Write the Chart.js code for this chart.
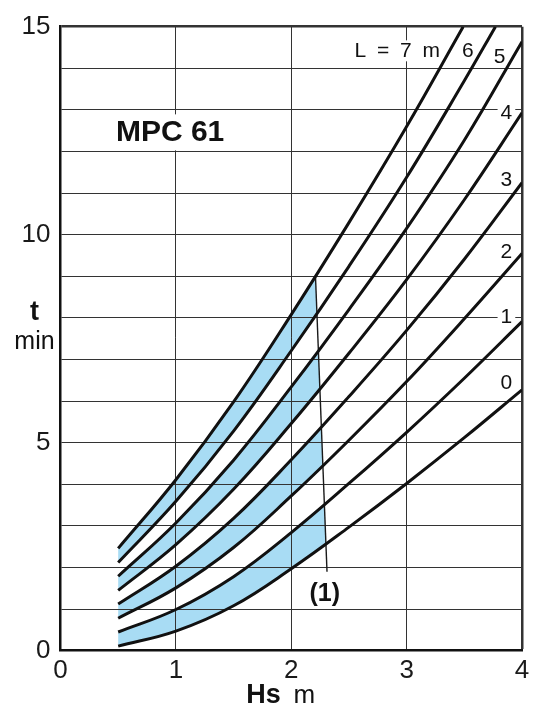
<!DOCTYPE html>
<html>
<head>
<meta charset="utf-8">
<script src="https://cdn.jsdelivr.net/npm/chart.js@4.4.1/dist/chart.umd.min.js"></script>
<style>
  html, body { margin: 0; padding: 0; background: #fff; }
</style>
</head>
<body>
<canvas id="chart" width="545" height="728"></canvas>
<script>
// Hs (m) where the curves were read
const hs = [0.5, 1, 1.5, 2, 2.5, 3, 3.5, 4];
const hsL6 = [0.5, 1, 1.5, 2, 2.5, 3, 3.5, 3.77];
const hsL7 = [0.5, 1, 1.5, 2, 2.5, 3, 3.49];

// t (min) for each pipe length L
const tL0 = [0.11, 0.47, 1.08, 1.97, 2.97, 4.02, 5.12, 6.27];
const tL1 = [0.45, 0.99, 1.78, 2.84, 4.02, 5.25, 6.55, 7.91];
const tL2 = [0.78, 1.51, 2.48, 3.72, 5.06, 6.47, 7.98, 9.55];
const tL3 = [1.12, 2.03, 3.18, 4.59, 6.11, 7.70, 9.41, 11.25];
const tL4 = [1.45, 2.55, 3.88, 5.46, 7.15, 8.92, 10.84, 12.93];
const tL5 = [1.79, 3.07, 4.58, 6.34, 8.20, 10.15, 12.27, 14.64];
const tL6 = [2.12, 3.59, 5.28, 7.21, 9.24, 11.38, 13.70, 15.0];
const tL7 = [2.46, 4.11, 5.98, 8.08, 10.29, 12.60, 15.0];

const curveNames = ["0", "1", "2", "3", "4", "5", "6", "L = 7 m"];

// limit line (1)
const cutHs = [2.21, 2.31];
const cutT = [9.0, 1.9];
const cutName = "(1)";

const yLabelled = [0, 5, 10, 15];
const chartTitle = "MPC 61";

// shaded bands, by curve index (upper, lower)
const bandPairs = [[7, 6], [5, 4], [3, 2], [1, 0]];

const FONT = "'Liberation Sans', Arial, Helvetica, sans-serif";
const BAND_BLUE = "#a8dcf4";
const INK = "#111";

// where the curve names sit (Hs, t)
const labelSpots = [[3.865, 6.43], [3.865, 8.02], [3.865, 9.58], [3.865, 11.32],
                    [3.865, 12.92], [3.805, 14.26], [3.53, 14.42], [2.93, 14.42]];

const curveSets = [tL0, tL1, tL2, tL3, tL4, tL5, tL6, tL7];
const curveHs = [hs, hs, hs, hs, hs, hs, hsL6, hsL7];

const datasets = curveSets.map((vals, i) => ({
  label: curveNames[i],
  data: vals.map((t, k) => ({ x: curveHs[i][k], y: t })),
  borderColor: INK,
  borderWidth: 3,
  pointRadius: 0,
  tension: 0.4,
  fill: false
}));
const cutIndex = datasets.length;
datasets.push({
  label: cutName,
  data: cutT.map((t, k) => ({ x: cutHs[k], y: t })),
  borderColor: "#1a1a1a",
  borderWidth: 1.4,
  pointRadius: 0,
  fill: false
});

function boxedText(ctx, text, cx, cy, font, boxH, spacing) {
  ctx.save();
  ctx.font = font;
  if (spacing) ctx.letterSpacing = spacing;
  const w = ctx.measureText(text).width;
  ctx.fillStyle = "#fff";
  ctx.fillRect(cx - w / 2 - 3, cy - boxH / 2, w + 6, boxH);
  ctx.fillStyle = INK;
  ctx.textAlign = "center";
  ctx.textBaseline = "middle";
  ctx.fillText(text, cx, cy);
  ctx.restore();
}

// blue bands, drawn under the grid and cut off by line (1)
const bandPlugin = {
  id: "bands",
  beforeDraw(chart) {
    const { ctx, chartArea: area } = chart;
    const cut = chart.getDatasetMeta(cutIndex).data;
    const p1 = cut[0], p2 = cut[1];
    const k = (p2.x - p1.x) / (p2.y - p1.y);
    const xAt = py => p1.x + (py - p1.y) * k;
    ctx.save();
    ctx.beginPath();
    ctx.moveTo(area.left, area.top);
    ctx.lineTo(xAt(area.top), area.top);
    ctx.lineTo(xAt(area.bottom), area.bottom);
    ctx.lineTo(area.left, area.bottom);
    ctx.closePath();
    ctx.clip();
    ctx.fillStyle = BAND_BLUE;
    bandPairs.forEach(([hi, lo]) => {
      const upper = chart.getDatasetMeta(hi).dataset;
      const lower = chart.getDatasetMeta(lo).dataset;
      upper.updateControlPoints(area, "x");
      lower.updateControlPoints(area, "x");
      ctx.beginPath();
      upper.path(ctx);
      lower.pathSegment(ctx, lower.segments[0], { move: false, reverse: true });
      ctx.closePath();
      ctx.fill();
    });
    ctx.restore();
  }
};

const textPlugin = {
  id: "texts",
  beforeDatasetsDraw(chart) {
    const { ctx, scales: { x, y } } = chart;
    boxedText(ctx, chartTitle, x.getPixelForValue(0.95), y.getPixelForValue(12.46), `bold 30px ${FONT}`, 36);
    curveNames.forEach((name, i) => {
      const [hx, ty] = labelSpots[i];
      boxedText(ctx, name, x.getPixelForValue(hx), y.getPixelForValue(ty), `21px ${FONT}`, 21, i === 7 ? "2.5px" : null);
    });
  },
  afterDraw(chart) {
    const { ctx, chartArea: area, scales: { x, y } } = chart;
    ctx.save();
    ctx.fillStyle = INK;
    ctx.textBaseline = "middle";
    ctx.textAlign = "center";
    ctx.font = `bold 25px ${FONT}`;
    ctx.fillText(cutName, x.getPixelForValue(2.29), y.getPixelForValue(1.36));
    // y axis title
    ctx.font = `bold 27px ${FONT}`;
    ctx.fillText("t", area.left - 26, y.getPixelForValue(8.13));
    ctx.font = `25px ${FONT}`;
    ctx.fillText("min", area.left - 26, y.getPixelForValue(7.41));
    // x axis title
    const ty = area.bottom + 45;
    ctx.textAlign = "right";
    ctx.font = `bold 27px ${FONT}`;
    ctx.fillText("Hs", x.getPixelForValue(1.91), ty);
    ctx.textAlign = "left";
    ctx.font = `26px ${FONT}`;
    ctx.fillText("m", x.getPixelForValue(2.02), ty);
    ctx.restore();
  }
};

new Chart(document.getElementById("chart"), {
  type: "line",
  data: { datasets },
  options: {
    responsive: false,
    animation: false,
    layout: { padding: { top: 26.7, right: 23, bottom: 0, left: 0 } },
    plugins: { legend: { display: false }, tooltip: { enabled: false } },
    scales: {
      x: {
        type: "linear",
        min: 0, max: 4,
        afterFit: s => { s.height = 77.3; },
        ticks: { stepSize: 1, padding: 5, color: "#1a1a1a", font: { family: FONT, size: 26 } },
        grid: {
          drawTicks: false,
          color: "#333",
          lineWidth: c => (c.tick && c.tick.value === 4 ? 2.5 : 1)
        },
        border: { display: true, width: 2.5, color: INK }
      },
      y: {
        min: 0, max: 15,
        afterFit: s => { s.width = 60.5; },
        ticks: {
          stepSize: 1, padding: 10, color: "#1a1a1a", font: { family: FONT, size: 26 },
          callback: v => (yLabelled.includes(v) ? v : "")
        },
        grid: {
          drawTicks: false,
          color: "#333",
          lineWidth: c => (c.tick && c.tick.value === 15 ? 2.5 : 1)
        },
        border: { display: true, width: 2.5, color: INK }
      }
    }
  },
  plugins: [bandPlugin, textPlugin]
});
</script>
</body>
</html>
